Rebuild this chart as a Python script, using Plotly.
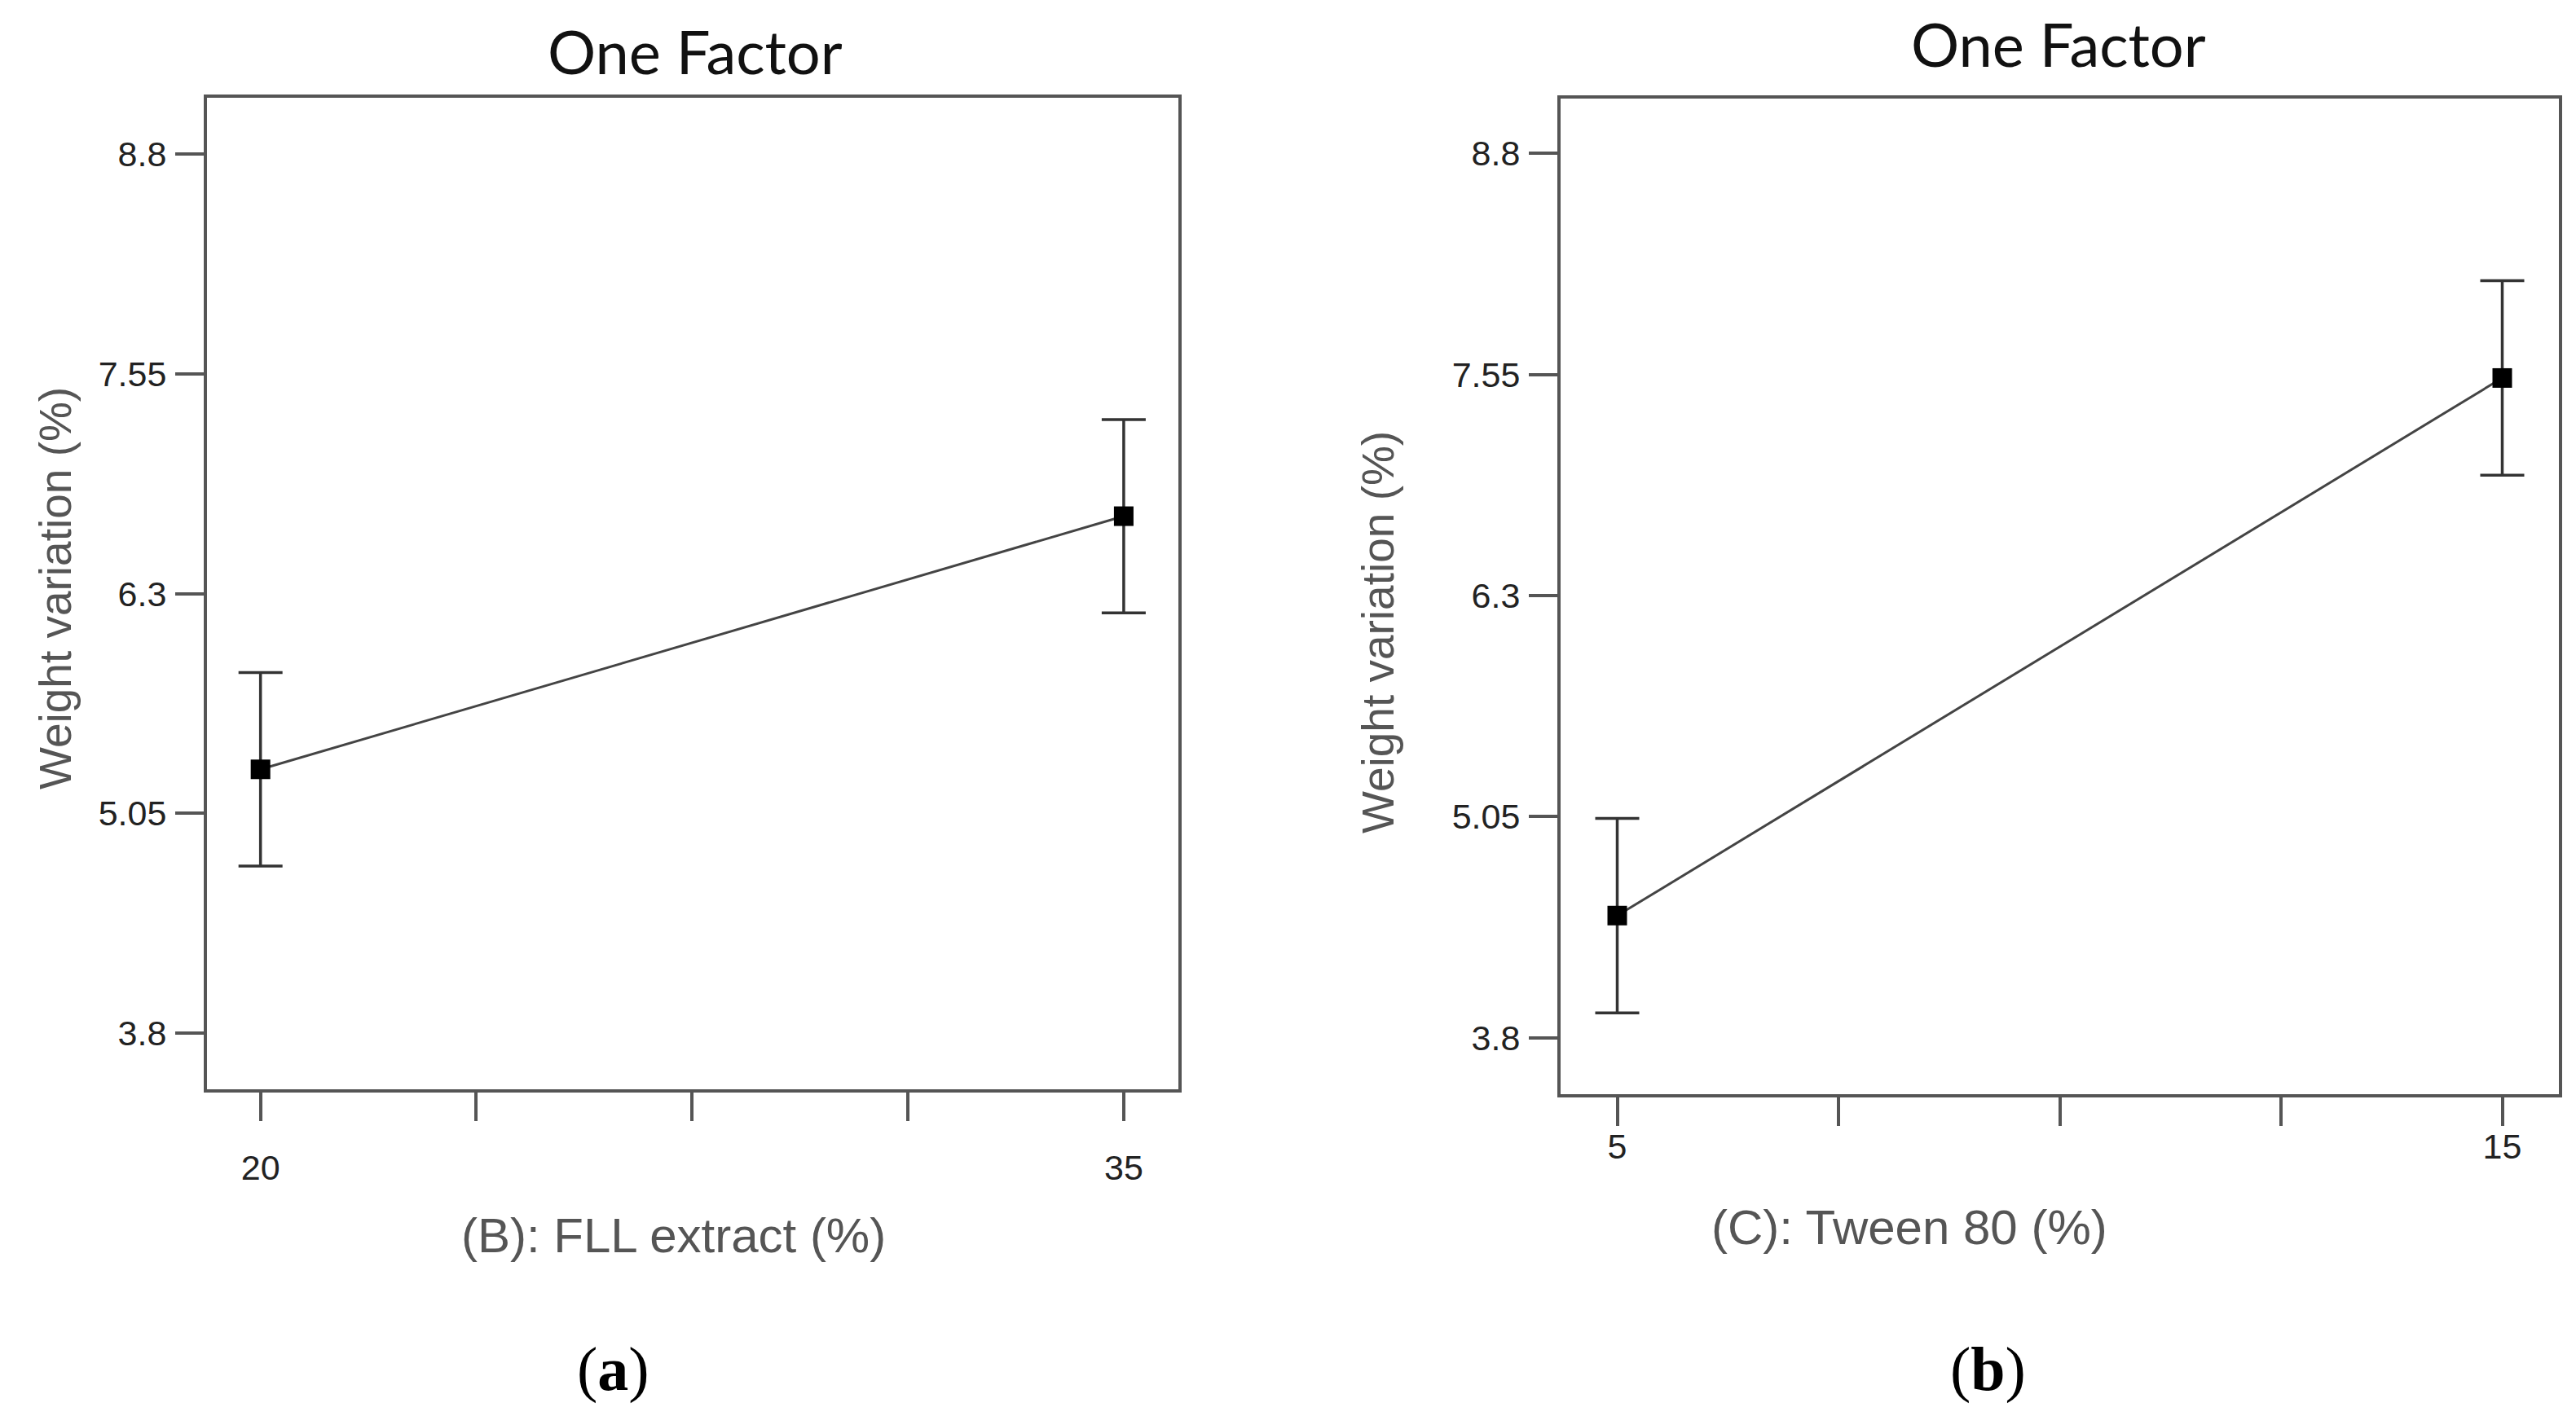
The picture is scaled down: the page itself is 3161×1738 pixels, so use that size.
import plotly.graph_objects as go

# ---- data ----
x_a = [20, 35]
y_a = [5.30, 6.74]
err_a = [0.55, 0.55]
x_a_ticks = [20, 23.75, 27.5, 31.25, 35]
x_a_ticktext = ["20", "", "", "", "35"]

x_b = [5, 15]
y_b = [4.49, 7.53]
err_b = [0.55, 0.55]
x_b_ticks = [5, 7.5, 10, 12.5, 15]
x_b_ticktext = ["5", "", "", "", "15"]

y_ticks = [3.8, 5.05, 6.3, 7.55, 8.8]
y_ticktext = ["3.8", "5.05", "6.3", "7.55", "8.8"]

titles = ["One Factor", "One Factor"]
x_titles = ["(B): FLL extract (%)", "(C): Tween 80 (%)"]
y_title = "Weight variation (%)"
panel_labels = ["(<b>a</b>)", "(<b>b</b>)"]

W, H = 3161, 1738
LINE = "#555555"
TICKFONT = dict(family="Liberation Sans, Arial, sans-serif", size=43, color="#222222")

fig = go.Figure()

for xs, ys, es, xa, ya in [(x_a, y_a, err_a, "x", "y"), (x_b, y_b, err_b, "x2", "y2")]:
    fig.add_trace(go.Scatter(
        x=xs, y=ys, xaxis=xa, yaxis=ya, mode="lines+markers",
        line=dict(color="#444444", width=3),
        marker=dict(symbol="square", size=24, color="black"),
        error_y=dict(type="data", array=es, visible=True, color="#333333", thickness=3.5, width=27),
        showlegend=False, hoverinfo="skip",
    ))

def px_x(p):
    return p / W

def px_y(p):
    return 1 - p / H

axis_common = dict(showline=True, linecolor=LINE, linewidth=4, mirror=True, showgrid=False,
                   zeroline=False, ticks="outside", ticklen=35, tickwidth=3.5, tickcolor=LINE,
                   tickfont=TICKFONT)

fig.update_layout(
    width=W, height=H, autosize=False,
    margin=dict(l=0, r=0, t=0, b=0),
    paper_bgcolor="white", plot_bgcolor="white",
    xaxis=dict(domain=[px_x(246), px_x(1438)], range=[19.07, 35.95], tickvals=x_a_ticks,
               ticktext=x_a_ticktext, anchor="y", ticklabelstandoff=20, **axis_common),
    yaxis=dict(domain=[px_y(1329), px_y(112)], range=[3.48, 9.12], tickvals=y_ticks,
               ticktext=y_ticktext, anchor="x", ticklabelstandoff=2, **axis_common),
    xaxis2=dict(domain=[px_x(1907), px_x(3132)], range=[4.36, 15.64], tickvals=x_b_ticks,
                ticktext=x_b_ticktext, anchor="y2", ticklabelstandoff=-12, **axis_common),
    yaxis2=dict(domain=[px_y(1335), px_y(113)], range=[3.48, 9.11], tickvals=y_ticks,
                ticktext=y_ticktext, anchor="x2", ticklabelstandoff=2, **axis_common),
)

ann = []
title_font = dict(family="Lato, Open Sans, sans-serif", size=74, color="#111111")
label_font = dict(family="Liberation Sans, Arial, sans-serif", size=55, color="#555555")
xlabel_font = dict(family="Liberation Sans, Arial, sans-serif", size=60, color="#555555")
panel_font = dict(family="Liberation Serif, Times New Roman, serif", size=76, color="black")

# titles
for t, cx, cy in [(titles[0], 845, 55), (titles[1], 2518, 46)]:
    ann.append(dict(text=t, x=px_x(cx), y=px_y(cy), xref="paper", yref="paper",
                    xanchor="center", yanchor="middle", showarrow=False, font=title_font))
# x titles
for t, cx, cy in [(x_titles[0], 818, 1508), (x_titles[1], 2335, 1498)]:
    ann.append(dict(text=t, x=px_x(cx), y=px_y(cy), xref="paper", yref="paper",
                    xanchor="center", yanchor="middle", showarrow=False, font=xlabel_font))
# y titles
for cx, cy in [(60, 714), (1683, 768)]:
    ann.append(dict(text=y_title, x=px_x(cx), y=px_y(cy), xref="paper", yref="paper",
                    xanchor="center", yanchor="middle", textangle=-90, showarrow=False,
                    font=label_font))
# panel labels
for t, cx, cy in [(panel_labels[0], 744, 1672), (panel_labels[1], 2431, 1672)]:
    ann.append(dict(text=t, x=px_x(cx), y=px_y(cy), xref="paper", yref="paper",
                    xanchor="center", yanchor="middle", showarrow=False, font=panel_font))

fig.update_layout(annotations=ann)
fig.write_html("out.html")
